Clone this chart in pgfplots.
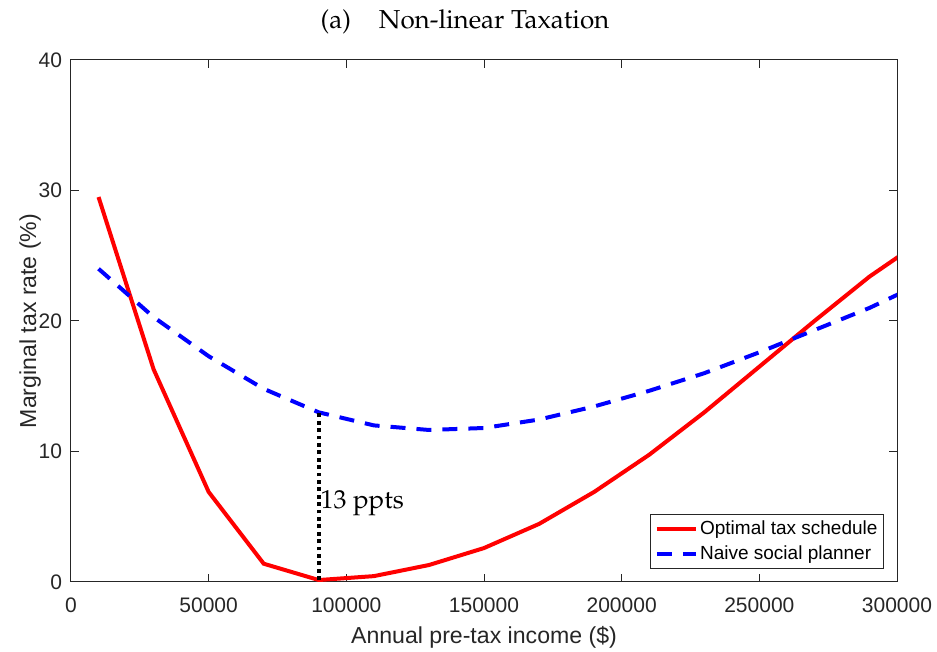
\documentclass[border=0pt]{standalone}
\usepackage[T1]{fontenc}
\usepackage{fontspec}
\setmainfont{Liberation Sans}
\usepackage{pgfplots}
\pgfplotsset{compat=1.18}
\usetikzlibrary{calc}
\newcommand\pala{\fontencoding{T1}\fontfamily{ppl}\selectfont}
\definecolor{axgray}{RGB}{38,38,38}
\definecolor{mred}{RGB}{255,0,0}
\definecolor{mblue}{RGB}{0,0,255}

\begin{document}
\begin{tikzpicture}
\begin{axis}[
  scale only axis,
  width=413pt, height=261pt,
  xmin=0, xmax=300000, ymin=0, ymax=40,
  xtick={0,50000,100000,150000,200000,250000,300000},
  ytick={0,10,20,30,40},
  scaled x ticks=false,
  /pgf/number format/fixed,
  /pgf/number format/1000 sep={},
  /pgf/number format/assume math mode=true,
  tick align=inside,
  major tick length=4pt,
  axis line style={axgray, line width=0.5pt},
  every tick/.style={axgray, line width=0.5pt},
  tick label style={font=\fontsize{10.5}{12}\selectfont, text=axgray},
  xticklabel style={yshift=-4.5pt},
  yticklabel style={xshift=-1pt},
  xlabel={Annual pre-tax income (\$)},
  ylabel={Marginal tax rate (\%)},
  label style={font=\fontsize{11.55}{13}\selectfont, text=axgray},
  xlabel style={yshift=0pt},
  ylabel style={yshift=-8pt},
  legend style={at={(1,0)}, anchor=south east, xshift=-6.5pt, yshift=6.5pt,
    draw=axgray, line width=0.5pt, font=\fontsize{9.5}{11}\selectfont,
    row sep=3pt, inner xsep=2pt, inner ysep=2.5pt,
    nodes={inner xsep=1pt, inner ysep=0.5pt}},
  legend cell align=left,
  legend image post style={line width=2pt},
  legend image code/.code={\draw[#1] (0cm,0cm) -- (0.69cm,0cm);},
  clip=true,
]
% optimal tax schedule
\addplot[mred, line width=2pt] coordinates {
  (10000,29.5) (30000,16.3) (50000,6.9) (70000,1.4) (90000,0.15)
  (110000,0.45) (130000,1.3) (150000,2.6) (170000,4.45) (190000,6.9)
  (210000,9.75) (230000,13.0) (250000,16.5) (270000,20.0) (290000,23.4)
  (310000,26.3)
};
\addlegendentry{Optimal tax schedule}
% naive social planner
\addplot[mblue, line width=2pt, dash pattern=on 7.5pt off 5.5pt] coordinates {
  (10000,24.0) (30000,20.3) (50000,17.3) (70000,14.8) (90000,13.0)
  (110000,12.0) (130000,11.65) (150000,11.8) (170000,12.45) (190000,13.45)
  (210000,14.65) (230000,16.0) (250000,17.6) (270000,19.3) (290000,21.0)
  (310000,23.0)
};
\addlegendentry{Naive social planner}
% gap between the two schedules at 90k
\addplot[black, line width=2pt, dash pattern=on 1.9pt off 1.8pt, forget plot]
  coordinates {(90000,0.15) (90000,13.0)};
\node[anchor=base west, inner sep=0pt, font=\pala\fontsize{13}{15}\selectfont]
  at (axis cs:90500,5.67) {13 ppts};
\end{axis}
\node[anchor=base, inner sep=0pt, font=\pala\fontsize{13}{15}\selectfont]
  at ($(current axis.north west)+(197pt,15.5pt)$) {(a)\hspace{14pt}Non-linear Taxation};
\pgfresetboundingbox
\path[use as bounding box] ($(current axis.south west)+(-35.5pt,-35pt)$)
  rectangle ($(current axis.north east)+(20pt,30pt)$);
\end{tikzpicture}
\end{document}
